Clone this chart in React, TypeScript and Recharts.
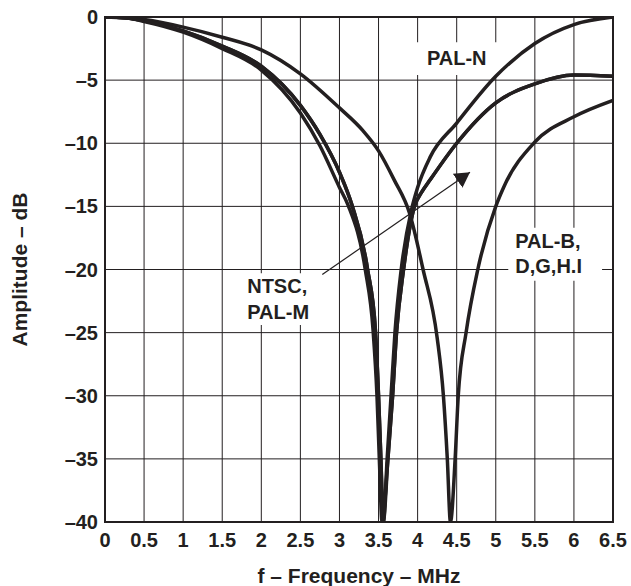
import React from 'react';
import {
    LineChart, Line, XAxis, YAxis, CartesianGrid, ReferenceArea, ReferenceLine
} from 'recharts';

// frequency (MHz) / amplitude (dB)
const ntscF = [0, 0.25, 0.5, 1, 1.5, 2, 2.5, 2.75, 3, 3.16, 3.36, 3.46, 3.5, 3.53, 3.56, 3.62, 3.68, 3.73, 3.82, 3.96, 4.05, 4.16, 4.5, 5, 5.5, 6, 6.5];
const ntscDb = [0, -0.05, -0.3, -1.1, -2.3, -3.9, -7.0, -9.3, -12.3, -14.9, -20, -24.8, -30, -35, -40, -35, -30, -25, -20, -15, -13.9, -12.9, -10, -6.8, -5.3, -4.6, -4.7];

const palMF = [0, 0.25, 0.5, 1, 1.5, 2, 2.5, 2.75, 3, 3.11, 3.33, 3.43, 3.48, 3.51, 3.545, 3.62, 3.68, 3.73, 3.82, 3.96, 4.05, 4.16, 4.5, 5, 5.5, 6, 6.5];
const palMDb = [0, -0.05, -0.35, -1.2, -2.5, -4.2, -7.6, -10.2, -13.5, -14.9, -20, -24.8, -30, -35, -40, -35, -30, -25, -20, -15, -13.9, -12.9, -10, -6.8, -5.3, -4.6, -4.7];

const palNF = [0, 0.25, 0.5, 1, 1.5, 2, 2.5, 2.75, 3, 3.16, 3.36, 3.46, 3.5, 3.53, 3.56, 3.61, 3.66, 3.71, 3.79, 3.92, 4, 4.16, 4.5, 5, 5.5, 6, 6.5];
const palNDb = [0, -0.05, -0.3, -1.1, -2.3, -3.9, -7.0, -9.3, -12.3, -14.9, -20, -24.8, -30, -35, -40, -35, -30, -25, -20, -15.3, -13.5, -11.1, -8.4, -4.7, -2.1, -0.6, 0];

const palBF = [0, 0.5, 1, 1.5, 2, 2.5, 3, 3.3, 3.5, 3.7, 3.9, 4.07, 4.25, 4.33, 4.38, 4.42, 4.48, 4.52, 4.62, 4.77, 5, 5.1, 5.5, 6, 6.5];
const palBDb = [0, -0.2, -0.8, -1.6, -2.6, -4.5, -7.2, -9.0, -10.6, -12.9, -15.6, -20, -25.4, -30, -35, -40, -35, -30, -25, -20, -15, -13.5, -9.9, -7.9, -6.6];

const xTicks = [0, 0.5, 1, 1.5, 2, 2.5, 3, 3.5, 4, 4.5, 5, 5.5, 6, 6.5];
const xTickLabels = ['0', '0.5', '1', '1.5', '2', '2.5', '3', '3.5', '4', '4.5', '5', '5.5', '6', '6.5'];
const yTicks = [0, -5, -10, -15, -20, -25, -30, -35, -40];
const yTickLabels = ['0', '–5', '–10', '–15', '–20', '–25', '–30', '–35', '–40'];

const toPoints = (f: number[], db: number[]) => f.map((x, i) => ({ f: x, db: db[i] }));

const INK = '#231f20';
const FONT = '"Liberation Sans", Arial, Helvetica, sans-serif';

const textStyle = { fontFamily: FONT, fontSize: 20, fontWeight: 700, fill: INK };
const titleStyle = { ...textStyle, fontSize: 21 };

function YTitle({ viewBox }: any) {
    const cx = 19;
    const cy = viewBox.y + viewBox.height / 2;
    return (
        <text x={cx} y={cy} textAnchor="middle" dominantBaseline="central"
            transform={`rotate(-90, ${cx}, ${cy})`} style={titleStyle}>
            Amplitude – dB
        </text>
    );
}

function XTitle({ viewBox }: any) {
    return (
        <text x={viewBox.x + viewBox.width / 2} y={583} textAnchor="middle" style={titleStyle}>
            f – Frequency – MHz
        </text>
    );
}

// multi-line note drawn inside a white reference box
const note = (lines: string[], align: 'left' | 'center') => (props: any) => {
    const { x, y, width } = props.viewBox;
    return (
        <g>
            {lines.map((t, i) => (
                <text key={t}
                    x={align === 'left' ? x + 7 : x + width / 2}
                    y={y + 20 + i * 25.5 + (align === 'center' ? 3 : 0)}
                    textAnchor={align === 'left' ? 'start' : 'middle'}
                    style={textStyle}>
                    {t}
                </text>
            ))}
        </g>
    );
};

export default function App() {
    const lineProps = {
        type: 'monotone' as const,
        dataKey: 'db',
        stroke: INK,
        strokeWidth: 3.5,
        dot: false,
        isAnimationActive: false,
    };

    return (
        <div style={{ position: 'absolute', left: 0, top: 0, width: 631, height: 586, background: '#fff' }}>
            <LineChart width={631} height={586} margin={{ top: 17, right: 18, bottom: 0, left: 0 }}>
                <defs>
                    <marker id="arrowHead" markerUnits="userSpaceOnUse" markerWidth={17} markerHeight={18}
                        refX={15} refY={8.5} orient="auto">
                        <path d="M0,0 L15,8.5 L0,17 z" fill={INK} />
                    </marker>
                </defs>
                <CartesianGrid stroke={INK} strokeWidth={1} />
                <XAxis
                    type="number"
                    dataKey="f"
                    domain={[0, 6.5]}
                    ticks={xTicks}
                    interval={0}
                    height={64}
                    axisLine={false}
                    tickLine={false}
                    tickSize={0}
                    tickMargin={11}
                    tick={textStyle}
                    tickFormatter={(v: number) => xTickLabels[xTicks.indexOf(v)] ?? String(v)}
                    allowDataOverflow
                    label={<XTitle />}
                />
                <YAxis
                    type="number"
                    domain={[-40, 0]}
                    ticks={yTicks}
                    interval={0}
                    width={105}
                    axisLine={false}
                    tickLine={false}
                    tickSize={0}
                    tickMargin={7}
                    tick={textStyle}
                    tickFormatter={(v: number) => yTickLabels[yTicks.indexOf(v)] ?? String(v)}
                    allowDataOverflow
                    label={<YTitle />}
                />
                <ReferenceArea x1={3.95} x2={5.05} y1={-4.6} y2={-2.0} fill="#fff" fillOpacity={1}
                    stroke="none" label={note(['PAL-N'], 'center')} />
                <ReferenceArea x1={5.16} x2={6.36} y1={-20.9} y2={-16.7} fill="#fff" fillOpacity={1}
                    stroke="none" label={note(['PAL-B,', 'D,G,H.I'], 'left')} />
                <ReferenceArea x1={1.73} x2={2.69} y1={-24.4} y2={-20.3} fill="#fff" fillOpacity={1}
                    stroke="none" label={note(['NTSC,', 'PAL-M'], 'left')} />
                <ReferenceLine
                    segment={[{ x: 2.78, y: -20.4 }, { x: 4.67, y: -12.3 }]}
                    stroke={INK}
                    strokeWidth={1.2}
                    markerEnd="url(#arrowHead)"
                />
                <Line {...lineProps} data={toPoints(palBF, palBDb)} name="PAL-B,D,G,H,I" />
                <Line {...lineProps} data={toPoints(palMF, palMDb)} name="PAL-M" />
                <Line {...lineProps} data={toPoints(ntscF, ntscDb)} name="NTSC" />
                <Line {...lineProps} data={toPoints(palNF, palNDb)} name="PAL-N" />
                <ReferenceArea x1={0} x2={6.5} y1={-40} y2={0} fill="none" stroke={INK} strokeWidth={2} />
            </LineChart>
        </div>
    );
}
